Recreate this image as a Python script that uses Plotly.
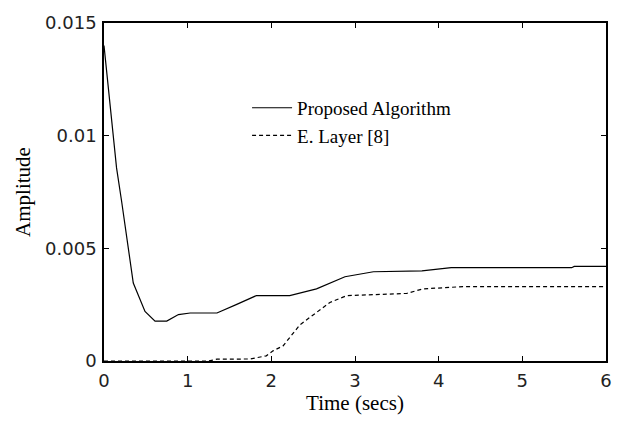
import plotly.graph_objects as go

# Proposed Algorithm (solid)
t_prop = [0, 0.15, 0.21, 0.35, 0.49, 0.61, 0.75, 0.89, 1.03, 1.35, 1.58, 1.82, 2.22, 2.54, 2.88, 3.22, 3.80, 4.15, 5.59, 5.62, 6.0]
a_prop = [0.0140, 0.00857, 0.0071, 0.00346, 0.0022, 0.00177, 0.00177, 0.00206, 0.00213, 0.00213, 0.0025, 0.0029, 0.0029, 0.0032, 0.00374, 0.00396, 0.0040, 0.00414, 0.00414, 0.0042, 0.0042]

# E. Layer [8] (dashed)
t_layer = [0, 1.25, 1.35, 1.75, 1.94, 2.02, 2.14, 2.34, 2.70, 2.90, 3.62, 3.81, 4.29, 6.0]
a_layer = [0.0, 0.0, 0.00008, 0.00009, 0.00023, 0.00045, 0.00067, 0.0016, 0.0026, 0.0029, 0.0030, 0.0032, 0.0033, 0.0033]

x_ticks = [0, 1, 2, 3, 4, 5, 6]
y_ticks = [0, 0.005, 0.01, 0.015]
y_tick_labels = ["0", "0.005", "0.01", "0.015"]

fig = go.Figure()
fig.add_trace(go.Scatter(x=t_prop, y=a_prop, mode="lines", name="Proposed Algorithm",
                         line=dict(color="black", width=1.2)))
fig.add_trace(go.Scatter(x=t_layer, y=a_layer, mode="lines", name="E. Layer [8]",
                         line=dict(color="black", width=1.2, dash="4px,3px")))

axis_common = dict(showgrid=False, zeroline=False, showline=True, linecolor="black", linewidth=1.5,
                   mirror="ticks", ticks="inside", ticklen=5, tickcolor="black", tickwidth=1,
                   tickfont=dict(family="DejaVu Sans", size=18, color="#222"))

serif = "Liberation Serif, Times New Roman, serif"

fig.update_layout(
    width=624, height=423,
    margin=dict(l=104, r=18, t=20, b=60),
    paper_bgcolor="white", plot_bgcolor="white",
    xaxis=dict(range=[0, 6], tickvals=x_ticks, ticklabelstandoff=3,
               title=dict(text="Time (secs)", font=dict(family=serif, size=21, color="black"), standoff=5),
               **axis_common),
    yaxis=dict(range=[0, 0.015], tickvals=y_ticks, ticktext=y_tick_labels, ticklabelstandoff=2,
               title=dict(text="Amplitude", font=dict(family=serif, size=21, color="black"), standoff=9),
               **axis_common),
    legend=dict(x=0.285, y=0.805, xanchor="left", yanchor="top", bgcolor="rgba(0,0,0,0)",
                font=dict(family=serif, size=19, color="black"),
                tracegroupgap=0, itemwidth=40),
    showlegend=True,
)

fig.write_html("out.html", config={"displayModeBar": False},
               post_script="document.body.style.margin='0';document.body.style.padding='0';")
